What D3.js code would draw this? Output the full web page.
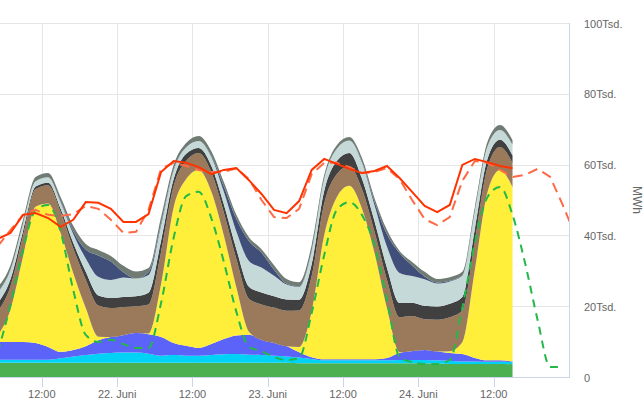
<!DOCTYPE html>
<html>
<head>
<meta charset="utf-8">
<script src="https://cdn.jsdelivr.net/npm/d3@7"></script>
<style>
  body { margin: 0; background: #fff; }
  svg { display: block; font-family: "Liberation Sans", Arial, sans-serif; }
</style>
</head>
<body>
<div id="chart"></div>
<script>
// Stunden seit 21. Juni 00:00 (alle 2 Stunden)
const actualHours = [5,7,9,11,13,15,17,19,21,23,25,27,29,31,33,35,37,39,41,43,45,47,49,51,53,55,57,59,61,63,65,67,69,71,73,75,77,79,81,83,85,87];
const forecastHours = [5,7,9,11,13,15,17,19,21,23,25,27,29,31,33,35,37,39,41,43,45,47,49,51,53,55,57,59,61,63,65,67,69,71,73,75,77,79,81,83,85,87,89,91,93,95,97];

// Erzeugung in Tsd. MWh, von unten nach oben gestapelt
const biomasse   = [4.0,4.0,4.0,4.0,4.0,4.0,4.0,4.0,4.0,4.0,4.0,4.0,4.0,4.0,4.0,4.0,4.0,4.0,4.0,4.0,4.0,4.0,4.0,4.0,3.9,3.9,3.9,3.9,3.9,3.9,3.9,3.9,3.9,3.9,3.9,3.8,3.7,3.7,3.7,3.7,3.7,3.6];
const wasser     = [0.9,0.9,0.9,0.9,0.9,1.3,1.8,2.2,2.6,2.8,2.9,2.9,2.6,2.0,2.2,2.0,2.0,2.2,2.4,2.5,2.3,2.2,2.0,1.8,1.6,1.2,0.8,0.8,0.8,0.8,0.8,0.8,0.9,0.9,0.9,0.9,0.9,0.7,0.7,0.6,0.6,0.6];
const wind       = [5.0,5.0,5.0,4.7,3.6,1.8,1.8,2.5,3.8,4.5,4.9,5.5,5.5,5.3,3.4,2.8,2.2,3.1,4.3,5.2,5.6,4.3,3.6,2.9,1.5,0.5,0.3,0.3,0.3,0.3,0.3,0.7,2.0,2.5,2.8,2.5,2.2,2.1,1.0,0.4,0.4,0.2];
const solar      = [1.9,9.2,24.1,38.5,40.5,33.5,21.8,10.8,1.0,0,0,0,0.2,15.0,38.3,47.1,50.3,43.1,29.3,13.6,0.9,0,0,0,1.5,13.0,35.1,45.8,49.0,42.6,30.1,14.0,0.2,0,0,0,0.5,3.3,24.9,47.4,53.8,49.2];
const braunkohle = [6.8,6.5,5.8,5.0,5.2,6.0,7.0,8.0,8.8,8.2,8.0,7.6,8.2,9.0,6.0,5.2,4.8,5.5,6.5,8.0,9.3,10.0,10.0,10.0,10.3,10.0,9.0,6.5,5.6,5.5,6.0,8.0,9.9,9.9,8.7,9.0,9.6,9.0,8.0,7.0,6.5,6.8];
const steinkohle = [2.3,2.0,1.4,0.7,0.7,0.9,1.5,2.2,2.8,2.8,2.8,2.8,3.3,3.2,2.0,2.0,1.4,1.8,2.3,2.8,3.4,3.4,3.2,3.2,3.0,3.3,3.5,3.7,3.7,3.0,3.0,3.4,4.0,3.8,3.8,3.7,3.8,3.8,3.5,2.5,2.0,2.2];
const erdgas     = [3.0,2.6,2.0,1.5,1.5,1.8,2.5,3.8,5.3,5.1,5.5,5.0,5.0,4.4,2.5,1.8,2.0,2.5,3.5,5.0,7.3,7.0,5.8,4.2,3.6,3.7,3.5,3.5,3.5,4.5,4.5,6.0,8.5,7.5,7.5,6.5,6.3,6.0,5.0,3.5,2.8,3.0];
const pumpspeicher = [0.2,0.1,0,0,0,0.2,0.8,2.5,6.0,5.2,1.5,0,0.8,0.5,0.2,0,0,0.3,1.5,3.5,5.6,4.2,1.7,0.3,0.2,0.2,0,0,0,0.3,1.0,3.5,5.6,3.0,0.8,0.3,0.2,0.1,0,0,0,0];
const sonstige   = [1.3,1.3,1.2,1.2,1.2,1.3,1.5,1.6,1.6,1.6,1.8,2.0,1.2,1.8,1.3,1.2,1.4,1.3,1.3,1.2,1.1,1.0,1.3,1.3,1.2,1.5,1.0,1.0,1.0,1.0,1.0,1.2,0.6,1.0,1.3,1.0,1.0,1.0,1.2,1.3,1.4,1.3];

// Linien
const verbrauch = [39.0,40.7,45.8,46.3,44.9,42.4,44.4,49.4,49.2,47.5,43.8,43.8,46.0,57.9,61.0,60.5,59.3,57.3,58.5,59.0,55.6,51.7,47.2,46.3,49.7,58.5,61.6,60.2,58.8,57.6,58.2,59.6,56.2,52.3,48.3,46.6,48.6,59.9,61.6,60.7,59.6,59.0];
const verbrauchPrognose = [37.0,41.5,45.8,47.2,45.8,45.5,46.0,48.3,47.5,44.4,40.7,41.0,47.2,58.8,60.5,59.6,58.5,57.9,57.9,59.0,55.9,50.0,45.2,44.9,47.5,57.3,60.5,60.5,59.3,57.6,57.9,59.0,55.9,50.0,44.6,42.9,45.2,55.4,61.0,60.5,58.5,56.5,57.1,58.8,56.5,48.6,40.1];
const solarPrognose = [7.1,20.3,35.9,47.2,48.6,41.0,24.6,11.9,9.9,10.5,9.3,8.2,8.2,20.9,39.3,51.1,52.3,44.9,32.5,18.4,8.5,7.3,5.6,4.8,5.4,18.1,34.5,47.2,49.4,45.8,37.3,21.8,5.6,4.2,3.7,3.7,4.8,19.5,37.9,50.8,53.7,45.8,32.2,16.1,2.8,2.8,null];

const yTickValues = [0, 20, 40, 60, 80, 100];
const yTickLabels = ["0", "20Tsd.", "40Tsd.", "60Tsd.", "80Tsd.", "100Tsd."];
const xTickLabels = ["12:00", "22. Juni", "12:00", "23. Juni", "12:00", "24. Juni", "12:00"];

const keys = ["biomasse","wasser","wind","solar","braunkohle","steinkohle","erdgas","pumpspeicher","sonstige"];
const colors = {
  biomasse: "#4caf50", wasser: "#00d2f5", wind: "#5b63f8", solar: "#ffee3a",
  braunkohle: "#9b7a5b", steinkohle: "#404040", erdgas: "#c5d9d9",
  pumpspeicher: "#3f4f79", sonstige: "#6f7b73"
};
const series = {biomasse, wasser, wind, solar, braunkohle, steinkohle, erdgas, pumpspeicher, sonstige};

const start = new Date(2023, 5, 21, 0, 0);
const toDate = h => new Date(start.getTime() + h * 3600e3);

const width = 644, height = 419;
const plotLeft = 0, plotRight = 569, plotTop = 23, plotBottom = 377;

const svg = d3.select("#chart").append("svg")
  .attr("width", width)
  .attr("height", height);

const x = d3.scaleTime()
  .domain([new Date(2023, 5, 21, 5, 20), new Date(2023, 5, 25, 0, 0)])
  .range([plotLeft, plotRight]);

const y = d3.scaleLinear()
  .domain([0, 100])
  .range([plotBottom, plotTop]);

const xTicks = d3.timeHour.every(12).range(x.domain()[0], x.domain()[1]);

// Gitter
svg.append("g").selectAll("line")
  .data(xTicks)
  .join("line")
  .attr("x1", d => Math.round(x(d)) + 0.5).attr("x2", d => Math.round(x(d)) + 0.5)
  .attr("y1", plotTop).attr("y2", plotBottom)
  .attr("stroke", "#e6e6e6");

svg.append("g").selectAll("line")
  .data(yTickValues)
  .join("line")
  .attr("x1", plotLeft).attr("x2", plotRight)
  .attr("y1", d => Math.round(y(d)) + 0.5).attr("y2", d => Math.round(y(d)) + 0.5)
  .attr("stroke", "#e6e6e6");

svg.append("clipPath").attr("id", "clip")
  .append("rect")
  .attr("x", plotLeft).attr("y", plotTop)
  .attr("width", plotRight - plotLeft).attr("height", plotBottom - plotTop);

const plot = svg.append("g").attr("clip-path", "url(#clip)");

// gestapelte Flächen
const table = actualHours.map((h, i) => {
  const row = {date: toDate(h)};
  keys.forEach(k => row[k] = series[k][i]);
  return row;
});

const stacked = d3.stack().keys(keys)(table);

const area = d3.area()
  .curve(d3.curveMonotoneX)
  .x(d => x(d.data.date))
  .y0(d => y(d[0]))
  .y1(d => y(d[1]));

plot.selectAll(".layer")
  .data(stacked)
  .join("path")
  .attr("class", "layer")
  .attr("fill", d => colors[d.key])
  .attr("d", area);

// Linien
const line = (hours, curve) => d3.line()
  .defined(d => d != null)
  .curve(curve)
  .x((d, i) => x(toDate(hours[i])))
  .y(d => y(d));

plot.append("path")
  .datum(solarPrognose)
  .attr("fill", "none")
  .attr("stroke", "#22b84a")
  .attr("stroke-width", 2)
  .attr("stroke-dasharray", "8,6")
  .attr("d", line(forecastHours, d3.curveMonotoneX));

plot.append("path")
  .datum(verbrauchPrognose)
  .attr("fill", "none")
  .attr("stroke", "#ff6a45")
  .attr("stroke-width", 2)
  .attr("stroke-dasharray", "10,6")
  .attr("d", line(forecastHours, d3.curveLinear));

plot.append("path")
  .datum(verbrauch)
  .attr("fill", "none")
  .attr("stroke", "#ff3300")
  .attr("stroke-width", 2)
  .attr("d", line(actualHours, d3.curveLinear));

// Achsen
svg.append("line")
  .attr("x1", plotLeft).attr("x2", plotRight)
  .attr("y1", plotBottom + 0.5).attr("y2", plotBottom + 0.5)
  .attr("stroke", "#ccd6eb");

svg.append("line")
  .attr("x1", plotRight + 0.5).attr("x2", plotRight + 0.5)
  .attr("y1", plotTop).attr("y2", plotBottom + 1)
  .attr("stroke", "#ccd6eb");

const xAxis = svg.append("g");
xAxis.selectAll("line")
  .data(xTicks)
  .join("line")
  .attr("x1", d => Math.round(x(d)) + 0.5).attr("x2", d => Math.round(x(d)) + 0.5)
  .attr("y1", plotBottom).attr("y2", plotBottom + 10)
  .attr("stroke", "#ccd6eb");

xAxis.selectAll("text")
  .data(xTicks)
  .join("text")
  .attr("x", d => x(d))
  .attr("y", 398)
  .attr("text-anchor", "middle")
  .style("font-size", "11px")
  .style("fill", "#666666")
  .text((d, i) => xTickLabels[i]);

svg.append("g").selectAll("text")
  .data(yTickValues)
  .join("text")
  .attr("x", 584)
  .attr("y", d => y(d) + 4.5)
  .style("font-size", "11px")
  .style("fill", "#666666")
  .text((d, i) => yTickLabels[i]);

svg.append("text")
  .attr("transform", `translate(633, ${(plotTop + plotBottom) / 2}) rotate(90)`)
  .attr("text-anchor", "middle")
  .style("font-size", "12px")
  .style("fill", "#666666")
  .text("MWh");
</script>
</body>
</html>
